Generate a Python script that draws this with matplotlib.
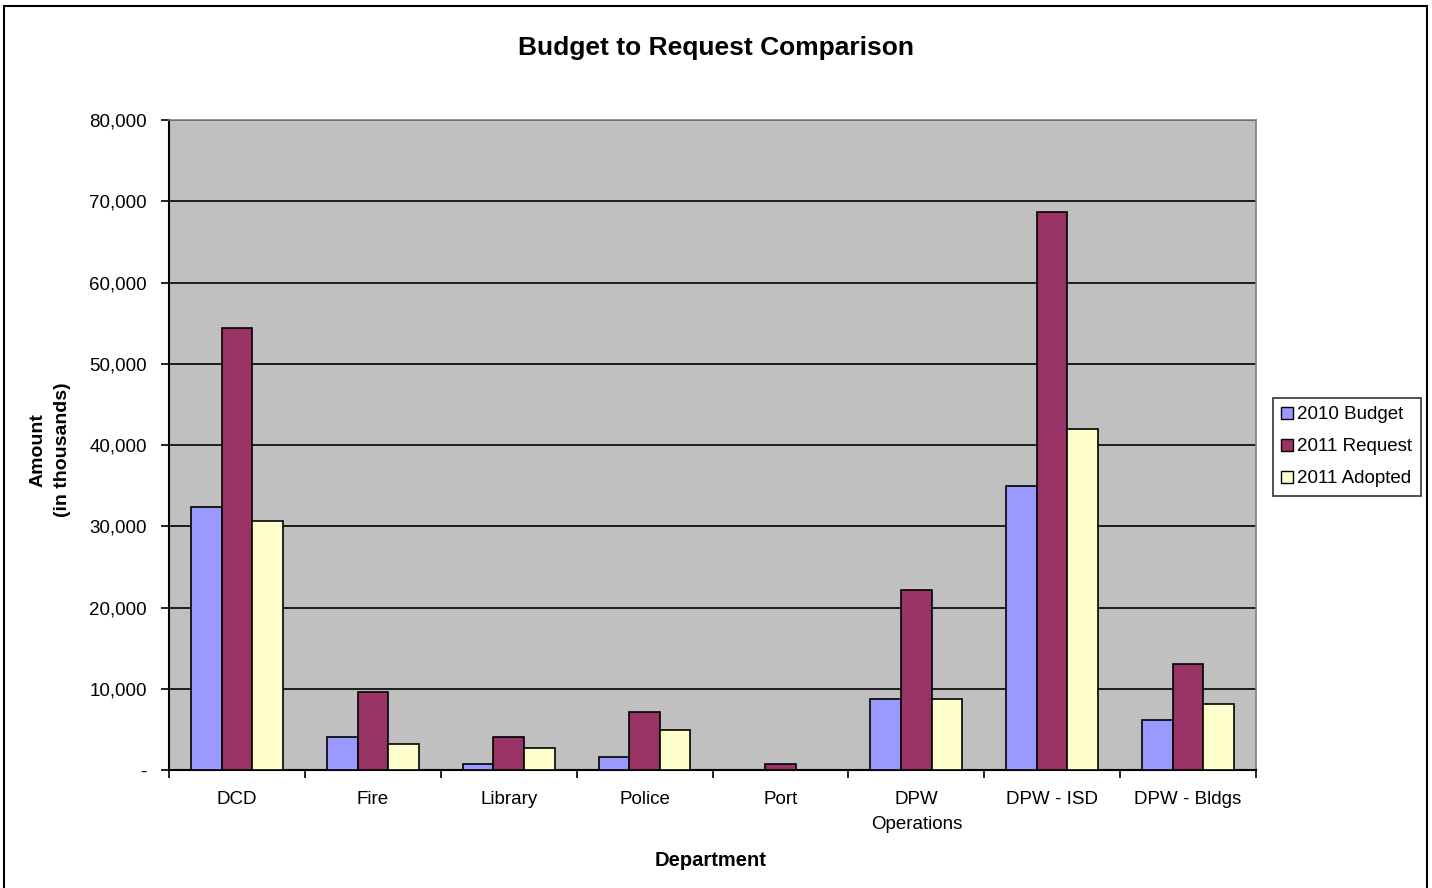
import matplotlib
matplotlib.use("Agg")
import matplotlib.pyplot as plt
import numpy as np
from matplotlib.patches import Rectangle
from matplotlib.ticker import FuncFormatter, FixedLocator

plt.rcParams['font.family'] = ['Liberation Sans', 'DejaVu Sans']

categories = ["DCD", "Fire", "Library", "Police", "Port", "DPW\nOperations", "DPW - ISD", "DPW - Bldgs"]
budget_2010 = [32400, 4050, 750, 1600, 0, 8700, 35000, 6150]
request_2011 = [54400, 9600, 4050, 7150, 750, 22100, 68700, 13050]
adopted_2011 = [30600, 3200, 2650, 4950, 0, 8700, 42000, 8150]
series_names = ["2010 Budget", "2011 Request", "2011 Adopted"]
series_colors = ["#9999FF", "#993366", "#FFFFCC"]
yticks = [0, 10000, 20000, 30000, 40000, 50000, 60000, 70000, 80000]

W, H = 1432, 888
fig = plt.figure(figsize=(W/100, H/100), dpi=100)
fig.patch.set_facecolor("white")
ax = fig.add_axes([169/W, 1-770/H, (1256-169)/W, (770-120)/H])
ax.set_facecolor("#C0C0C0")

x = np.arange(len(categories))
bw = 0.225
for i, (vals, name, col) in enumerate(zip([budget_2010, request_2011, adopted_2011], series_names, series_colors)):
    ax.bar(x + (i-1)*bw, vals, width=bw, color=col, edgecolor="black", linewidth=1.2, label=name, zorder=3)

ax.set_xlim(-0.5, len(categories)-0.5)
ax.set_ylim(0, 80000)
ax.set_yticks(yticks)
ax.yaxis.set_major_formatter(FuncFormatter(lambda v, p: "-" if v == 0 else f"{int(v):,}"))
ax.yaxis.grid(True, color="black", linewidth=1.2, zorder=1)
ax.set_axisbelow(True)

ax.set_xticks(x)
ax.set_xticklabels(categories, fontsize=13.5)
for t in ax.get_xticklabels():
    t.set_linespacing(1.6)
ax.tick_params(axis="x", which="major", length=0, pad=15)
ax.xaxis.set_minor_locator(FixedLocator(np.arange(-0.5, len(categories), 1.0)))
ax.tick_params(axis="x", which="minor", length=6, width=1.2, direction="out", color="black")
ax.tick_params(axis="y", which="major", length=6, width=1.2, direction="out", labelsize=13.5, pad=10)

for s in ["left", "bottom"]:
    ax.spines[s].set_color("black")
    ax.spines[s].set_linewidth(1.5)
for s in ["top", "right"]:
    ax.spines[s].set_color("#808080")
    ax.spines[s].set_linewidth(1.2)

fig.text(716/W, 1-48/H, "Budget to Request Comparison", ha="center", va="center", fontsize=19, fontweight="bold")
fig.text(711/W, 1-860/H, "Department", ha="center", va="center", fontsize=14.5, fontweight="bold")
fig.text(50/W, 1-450/H, "Amount\n(in thousands)", ha="center", va="center", rotation=90, fontsize=14,
         fontweight="bold", linespacing=1.55)

leg = fig.legend(loc="upper left", bbox_to_anchor=(1273/W, 1-398/H), fontsize=13.5, frameon=True,
                 fancybox=False, edgecolor="black", handlelength=0.6, handleheight=0.6, handletextpad=0.25,
                 borderpad=0.45, labelspacing=0.8, borderaxespad=0)
leg.get_frame().set_linewidth(1.2)
for h in leg.legend_handles:
    h.set_edgecolor("black")
    h.set_linewidth(1.0)

fig.patches.append(Rectangle((4/W, -0.01), (1427-4)/W, 1-6/H+0.01, transform=fig.transFigure,
                             fill=False, edgecolor="black", linewidth=1.5))

fig.savefig("out.png", dpi=100)
